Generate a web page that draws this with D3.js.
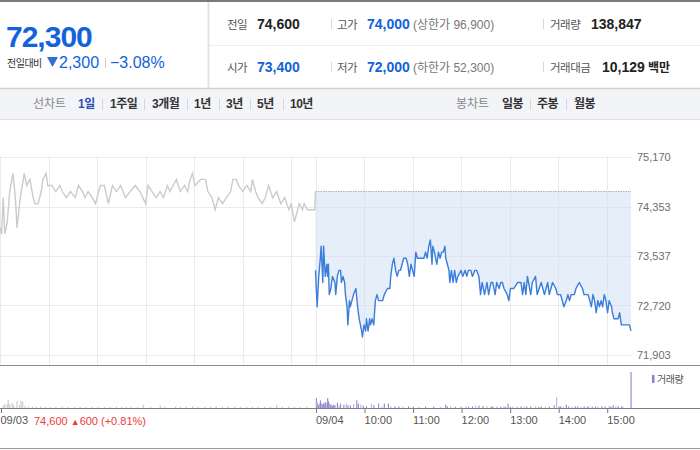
<!DOCTYPE html>
<html>
<head>
<meta charset="utf-8">
<title>72,300 - 1일 선차트</title>
<style>
    body { margin: 0; background: #fff; }
    svg { display: block; font-family: "Liberation Sans", Arial, "Noto Sans CJK KR", sans-serif; }
</style>
</head>
<body>
<div id="chart"></div>
<script src="https://d3js.org/d3.v7.min.js"></script>
<script>

    // 09/03 price line (minutes from 09:00, price)
    var prevMin = [0, 2, 4, 6, 9, 12, 16, 19, 21, 25,
        30, 33, 37, 41, 43, 47, 51, 53, 57, 59,
        64, 69, 74, 77, 82, 87, 93, 97, 102, 105,
        109, 114, 118, 124, 129, 134, 139, 144, 149, 155,
        161, 167, 173, 180, 183, 188, 193, 198, 202, 207,
        210, 214, 218, 223, 228, 232, 235, 238, 241, 248,
        254, 257, 262, 266, 270, 275, 280, 285, 288, 292,
        295, 300, 305, 310, 312, 316, 319, 324, 328, 332,
        337, 342, 347, 352, 357, 360, 364, 366, 370, 374,
        376, 380, 389, 390];
    var prevPrice = [74000, 73900, 74500, 73900, 74100, 74600, 74900, 74500, 74000, 74500,
        74900, 74700, 74800, 74500, 74400, 74400, 74600, 74800, 74900, 74700,
        74700, 74600, 74700, 74600, 74500, 74600, 74500, 74700, 74600, 74500,
        74600, 74500, 74400, 74700, 74700, 74400, 74700, 74600, 74700, 74500,
        74600, 74700, 74600, 74400, 74700, 74600, 74500, 74600, 74500, 74700,
        74600, 74700, 74800, 74600, 74700, 74600, 74800, 74900, 74700, 74800,
        74800, 74600, 74500, 74300, 74500, 74400, 74500, 74600, 74800, 74800,
        74700, 74600, 74700, 74600, 74800, 74600, 74500, 74400, 74500, 74700,
        74500, 74600, 74400, 74500, 74300, 74400, 74100, 74200, 74400, 74300,
        74400, 74300, 74300, 74600];

    // 09/04 price line
    var dayMin = [0, 2, 4, 6, 7, 9, 10, 12, 14, 15,
        16, 17, 19, 21, 24, 25, 27, 29, 31, 32,
        34, 36, 37, 39, 40, 42, 43, 45, 47, 50,
        52, 54, 57, 58, 60, 62, 63, 65, 67, 68,
        70, 72, 74, 76, 78, 83, 85, 89, 92, 93,
        95, 97, 99, 101, 103, 105, 107, 109, 112, 114,
        116, 118, 120, 122, 124, 126, 130, 134, 136, 138,
        140, 142, 144, 145, 147, 150, 152, 154, 156, 158,
        160, 161, 163, 165, 166, 168, 170, 172, 174, 176,
        180, 182, 185, 187, 189, 192, 194, 197, 199, 202,
        204, 206, 209, 212, 214, 217, 219, 222, 224, 227,
        229, 231, 233, 237, 239, 241, 245, 250, 254, 256,
        258, 260, 262, 266, 268, 272, 274, 279, 283, 287,
        289, 293, 297, 299, 303, 307, 310, 312, 314, 316,
        320, 322, 326, 330, 332, 334, 337, 339, 341, 343,
        345, 347, 349, 351, 353, 355, 357, 359, 361, 363,
        366, 367, 369, 374, 376, 378, 388, 390];
    var dayPrice = [73300, 72700, 73200, 73500, 73700, 73100, 73700, 73200, 73400, 73200,
        73400, 72900, 73000, 73200, 73100, 72900, 73200, 73300, 73300, 73100,
        73200, 73100, 72900, 72700, 72400, 72800, 72700, 72800, 72900, 73000,
        72700, 72500, 72300, 72200, 72400, 72300, 72500, 72300, 72500, 72400,
        72500, 72400, 72800, 72900, 72800, 72800, 72900, 73000, 73000, 73200,
        73400, 73500, 73300, 73200, 73300, 73300, 73400, 73500, 73500, 73400,
        73200, 73400, 73300, 73200, 73600, 73500, 73500, 73500, 73600, 73500,
        73700, 73800, 73400, 73700, 73600, 73400, 73600, 73500, 73600, 73600,
        73700, 73500, 73400, 73300, 73100, 73300, 73100, 73300, 73100, 73200,
        73300, 73200, 73300, 73200, 73300, 73300, 73200, 73300, 73300, 73200,
        72900, 73100, 72900, 73100, 72900, 73100, 73100, 72900, 73100, 73000,
        73100, 73100, 73000, 72900, 72800, 73000, 73000, 73100, 73100, 72900,
        73100, 72900, 73200, 72900, 73100, 73200, 72900, 73100, 72900, 73100,
        72900, 73100, 73000, 72900, 72900, 72700, 72800, 72900, 72800, 72900,
        72900, 73000, 73100, 73000, 72900, 72900, 72900, 72800, 72700, 72900,
        72800, 72600, 72800, 72700, 72800, 72700, 72900, 72800, 72600, 72800,
        72700, 72600, 72500, 72500, 72600, 72400, 72400, 72300];

    // volume bars (shares)
    var vol1Min = [4, 6, 9, 10, 12, 15, 17, 21, 24, 26,
        28, 31, 35, 40, 45, 50, 56, 62, 69, 77,
        84, 92, 99, 106, 114, 121, 129, 136, 144, 150,
        156, 162, 170, 177, 186, 198, 204, 217, 223, 230,
        238, 245, 253, 260, 267, 275, 282, 290, 297, 305,
        312, 319, 327, 334, 342, 349, 357, 364, 371, 379];
    var vol1 = [1600, 2200, 1900, 4400, 2200, 2700, 1600, 3700, 1600, 4000,
        3700, 1100, 800, 900, 650, 800, 650, 700, 650, 800,
        650, 700, 800, 650, 700, 650, 700, 650, 800, 650,
        700, 650, 650, 1800, 700, 1400, 650, 800, 700, 800,
        900, 800, 700, 800, 900, 800, 900, 800, 700, 800,
        700, 650, 700, 800, 1800, 700, 900, 700, 650, 650];
    var vol2Min = [1, 2, 3, 4, 5, 6, 7, 8, 9, 10,
        11, 12, 13, 14, 15, 16, 17, 18, 19, 20,
        21, 22, 23, 24, 27, 29, 31, 35, 38, 40,
        43, 47, 51, 53, 56, 59, 63, 69, 72, 78,
        82, 85, 90, 93, 98, 103, 108, 115, 121, 128,
        136, 146, 155, 161, 163, 167, 173, 180, 186, 189,
        194, 198, 202, 207, 212, 217, 219, 224, 229, 233,
        235, 238, 241, 244, 249, 254, 258, 261, 266, 272,
        276, 279, 284, 289, 295, 298, 301, 303, 306, 310,
        313, 317, 321, 324, 328, 332, 336, 338, 342, 346,
        349, 354, 358, 363, 365, 368, 371, 374, 378, 380,
        390];
    var vol2 = [5500, 3300, 2000, 1500, 2400, 4200, 2500, 1800, 2000, 2600,
        1900, 3300, 2200, 2800, 5500, 3700, 2600, 1700, 2000, 1500,
        1100, 1800, 1200, 1600, 2900, 1400, 2400, 1800, 2400, 1500,
        1500, 2200, 4200, 2400, 2000, 1300, 900, 2400, 1500, 2400,
        800, 2400, 2400, 1100, 800, 900, 700, 900, 650, 650,
        650, 700, 650, 1800, 800, 900, 650, 700, 800, 700,
        900, 1500, 1300, 1100, 900, 700, 800, 800, 700, 700,
        900, 2400, 700, 800, 650, 800, 700, 900, 800, 900,
        650, 800, 700, 800, 1500, 5900, 900, 900, 700, 1800,
        900, 800, 900, 800, 700, 900, 800, 900, 800, 700,
        900, 900, 800, 1100, 800, 1500, 800, 1100, 800, 900,
        19800];

    var prevClose = 74600;
    var priceTicks = [71903, 72720, 73537, 74353, 75170];
    var timeTicks = [0, 390, 450, 510, 570, 630, 690, 750];
    var timeLabels = ["09/03", "09/04", "10:00", "11:00", "12:00", "13:00", "14:00", "15:00"];
    var gridMin = [0, 60, 120, 180, 240, 300, 360, 390, 450, 510, 570, 630, 690, 750];

    var quoteLabels = ["전일", "고가", "거래량", "시가", "저가", "거래대금"];
    var quoteValues = ["74,600", "74,000", "138,847", "73,400", "72,000", "10,129"];
    var lineTabs = ["1일", "1주일", "3개월", "1년", "3년", "5년", "10년"];
    var candleTabs = ["일봉", "주봉", "월봉"];

    var blue = "#1162dc";

    var svg = d3.select("#chart")
        .append("svg")
        .attr("width", 700)
        .attr("height", 450);

    function txt(x, y, s, size, color, weight) {
        return svg.append("text")
            .attr("x", x).attr("y", y)
            .style("font-size", size + "px")
            .style("font-weight", weight || "normal")
            .attr("fill", color)
            .text(s);
    }
    function sep(x, y1, y2, color) {
        svg.append("line")
            .attr("x1", x).attr("x2", x).attr("y1", y1).attr("y2", y2)
            .attr("stroke", color || "#d8d8d8");
    }

    // ---------- header ----------
    svg.append("rect").attr("width", 700).attr("height", 2).attr("fill", "#7a7a7a");
    svg.append("line").attr("x1", 208.5).attr("x2", 208.5).attr("y1", 2).attr("y2", 88)
        .attr("stroke", "#e3e3e3").attr("stroke-width", 2);
    svg.append("line").attr("x1", 209).attr("x2", 700).attr("y1", 45.5).attr("y2", 45.5)
        .attr("stroke", "#eeeeee");

    txt(6, 47, "72,300", 30, blue, "bold").style("letter-spacing", "-1px");
    txt(7, 67, "전일대비", 10, "#333").style("letter-spacing", "-0.5px");
    svg.append("path").attr("d", "M47,57 L58,57 L52.5,67 Z").attr("fill", "#2f6fd6");
    txt(59, 68, "2,300", 16, blue);
    sep(105.5, 58, 68, "#d0d0d0");
    txt(110, 68, "\u22123.08%", 16, blue);

    // quote rows
    var colX = [227, 337, 550];
    var valX = [257, 367, 591];
    [29, 72].forEach(function (by, r) {
        for (var c = 0; c < 3; c++) {
            var i = r * 3 + c;
            txt(colX[c], by, quoteLabels[i], 11.5, "#555").style("letter-spacing", "-0.5px");
            var vx = valX[c] + (i === 5 ? 11 : 0);
            txt(vx, by, quoteValues[i], 14, c === 1 || i === 3 ? blue : "#222", "bold");
        }
        sep(331.5, by - 10, by, "#d8d8d8");
        sep(543.5, by - 10, by, "#d8d8d8");
    });
    txt(413, 29, "(상한가 96,900)", 12, "#777");
    txt(413, 72, "(하한가 52,300)", 12, "#777");
    txt(648, 72, "백만", 12, "#222", "bold");

    // tab bar
    svg.append("rect").attr("y", 88).attr("width", 700).attr("height", 31).attr("fill", "#f3f4f7");
    svg.append("line").attr("x1", 0).attr("x2", 700).attr("y1", 88.5).attr("y2", 88.5)
        .attr("stroke", "#d2d2d2").attr("stroke-width", 1.5);
    svg.append("line").attr("x1", 0).attr("x2", 700).attr("y1", 119.5).attr("y2", 119.5)
        .attr("stroke", "#e0e0e0");

    txt(33, 108, "선차트", 12, "#888");
    var tabX = [78, 110, 152, 194, 226, 257, 290];
    var tabSep = [102, 144, 187, 219, 250, 283];
    lineTabs.forEach(function (t, i) {
        txt(tabX[i], 108, t, 12, i === 0 ? "#2b4fb0" : "#333", "bold").style("letter-spacing", "-0.5px");
    });
    tabSep.forEach(function (x) { sep(x + 0.5, 99, 110, "#d5d5d5"); });
    txt(456, 108, "봉차트", 12, "#888");
    var cTabX = [502, 537, 574];
    candleTabs.forEach(function (t, i) {
        txt(cTabX[i], 108, t, 12, "#333", "bold").style("letter-spacing", "-0.5px");
    });
    sep(530.5, 99, 110, "#d5d5d5");
    sep(566.5, 99, 110, "#d5d5d5");

    // ---------- chart ----------
    var x = d3.scaleLinear().domain([0, 780]).range([0, 631]);
    var y = d3.scaleLinear().domain([71903, 75170]).range([355, 157]);
    var yv = d3.scaleLinear().domain([0, 22000]).range([408, 368]);

    var prev = prevMin.map(function (m, i) { return { m: m, p: prevPrice[i] }; });
    var day = dayMin.map(function (m, i) { return { m: m + 390, p: dayPrice[i] }; });

    // grid
    var grid = svg.append("g").attr("stroke", "#ebebeb");
    grid.selectAll(".h").data(priceTicks).enter().append("line")
        .attr("x1", 0).attr("x2", 632)
        .attr("y1", function (d) { return Math.round(y(d)) + 0.5; })
        .attr("y2", function (d) { return Math.round(y(d)) + 0.5; });
    grid.selectAll(".v").data(gridMin).enter().append("line")
        .attr("x1", function (d) { return Math.round(x(d)) + 0.5; })
        .attr("x2", function (d) { return Math.round(x(d)) + 0.5; })
        .attr("y1", 156).attr("y2", 365);

    // shaded area between price and previous close
    svg.append("path")
        .datum(day)
        .attr("fill", "#cadcf5")
        .attr("fill-opacity", 0.48)
        .attr("d", d3.area()
            .x(function (d) { return x(d.m); })
            .y0(y(prevClose))
            .y1(function (d) { return y(d.p); }));

    svg.append("line")
        .attr("x1", x(390)).attr("x2", x(780))
        .attr("y1", y(prevClose)).attr("y2", y(prevClose))
        .attr("stroke", "#9a9a9a").attr("stroke-width", 0.8)
        .attr("stroke-dasharray", "1.5,1");

    var line = d3.line()
        .x(function (d) { return x(d.m); })
        .y(function (d) { return y(d.p); });

    svg.append("path").datum(prev)
        .attr("fill", "none").attr("stroke", "#cbcbcb").attr("stroke-width", 1.4)
        .attr("d", line);
    svg.append("path").datum(day)
        .attr("fill", "none").attr("stroke", "#3b7ddb").attr("stroke-width", 1.4)
        .attr("stroke-linejoin", "round")
        .attr("d", line);

    // price axis
    svg.append("g")
        .attr("transform", "translate(632,0)")
        .call(d3.axisRight(y).tickValues(priceTicks).tickFormat(d3.format(",")).tickSize(0).tickPadding(5))
        .call(function (g) { g.select(".domain").remove(); })
        .selectAll("text")
        .style("font-size", "11px")
        .style("font-family", "'Liberation Sans', Arial, sans-serif")
        .attr("fill", "#6e6e6e");

    // volume bars
    svg.append("g").selectAll("rect")
        .data(vol1Min).enter().append("rect")
        .attr("x", function (d) { return x(d) - 0.5; })
        .attr("width", 1.1)
        .attr("y", function (d, i) { return yv(vol1[i]); })
        .attr("height", function (d, i) { return 408 - yv(vol1[i]); })
        .attr("fill", "#c9c9c9");
    svg.append("g").selectAll("rect")
        .data(vol2Min).enter().append("rect")
        .attr("x", function (d) { return x(d + 390) - 0.5; })
        .attr("width", 1.1)
        .attr("y", function (d, i) { return yv(vol2[i]); })
        .attr("height", function (d, i) { return 408 - yv(vol2[i]); })
        .attr("fill", function (d, i) { return i % 3 === 1 ? "#bdb2e3" : "#9484cc"; });

    svg.append("rect").attr("x", 652).attr("y", 375).attr("width", 2.5).attr("height", 8).attr("fill", "#8f80c9");
    txt(657, 383, "거래량", 10, "#555").style("letter-spacing", "-0.5px");

    // panel lines
    svg.append("line").attr("x1", 0).attr("x2", 700).attr("y1", 365.5).attr("y2", 365.5)
        .attr("stroke", "#8c8c8c");

    // time axis
    var xAxis = svg.append("g")
        .attr("transform", "translate(0,408)")
        .call(d3.axisBottom(x).tickValues(timeTicks).tickSize(5).tickPadding(3)
            .tickFormat(function (d, i) { return timeLabels[i]; }));
    xAxis.select(".domain").remove();
    xAxis.selectAll("line").attr("stroke", "#777")
        .attr("transform", function (d) { return "translate(" + (d === 0 ? 1 : 0.5) + ",0)"; });
    xAxis.selectAll("text")
        .attr("text-anchor", "start")
        .attr("x", function (d) { return d === 0 ? 0 : 0; })
        .style("font-size", "11px")
        .style("font-family", "'Liberation Sans', Arial, sans-serif")
        .attr("fill", "#555");
    svg.append("line").attr("x1", 0).attr("x2", 700).attr("y1", 408.5).attr("y2", 408.5)
        .attr("stroke", "#7d7d7d");

    var note = svg.append("text").attr("x", 34).attr("y", 424.5)
        .style("font-size", "11px").attr("fill", "#ee3b3b");
    note.append("tspan").text("74,600 ");
    note.append("tspan").style("font-size", "9px").text("▲");
    note.append("tspan").text("600 (+0.81%)");

    svg.append("line").attr("x1", 0).attr("x2", 700).attr("y1", 448.5).attr("y2", 448.5)
        .attr("stroke", "#9a9a9a");

</script>
</body>
</html>
